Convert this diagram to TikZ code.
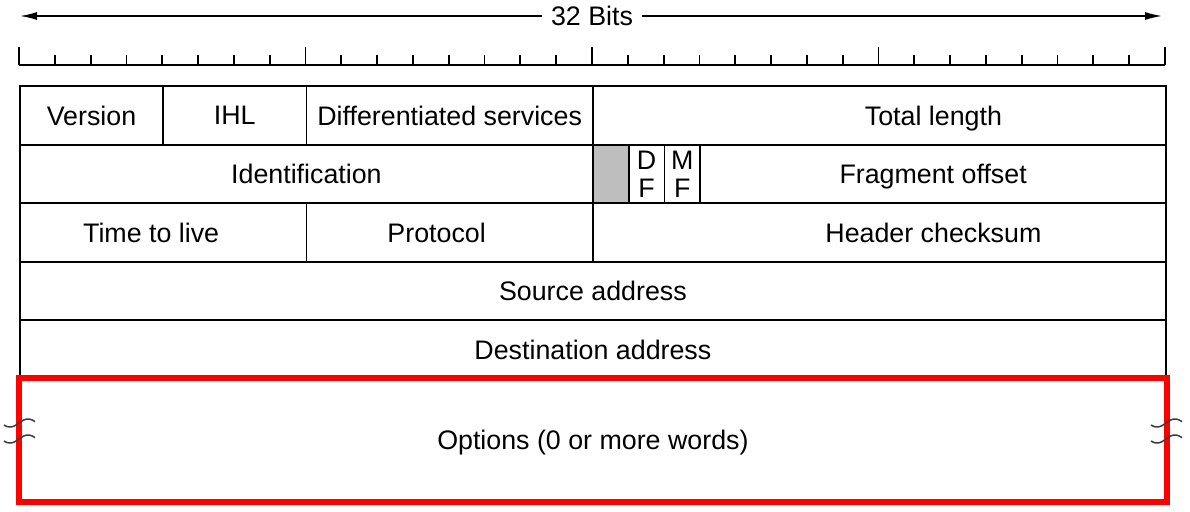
\documentclass[tikz,border=0pt]{standalone}
\usepackage{fontspec}
\setmainfont{Liberation Sans}
\usetikzlibrary{arrows.meta}
\definecolor{cellgray}{RGB}{190,190,190}
\definecolor{wavegray}{RGB}{60,60,60}
\begin{document}
\begin{tikzpicture}[x=1pt,y=-1pt,
  lbl/.style={font=\fontsize{26.8}{28}\selectfont, text depth=0pt},
  cell/.style={lbl, draw=black, line width=1.8pt, anchor=north west, inner sep=0pt},
  ruler/.style={line width=1.8pt},
  arr/.style={line width=1.5pt, -{Latex[length=17pt,width=8pt]}},
  optbox/.style={draw=red, line width=5.5pt, line join=miter},
  wave/.style={draw=wavegray, line width=1.5pt}]
\useasboundingbox (0,0) rectangle (1190,511);
% header arrow
\node[lbl, inner sep=9pt] (bits) at (592,16) {32 Bits};
\coordinate (al) at (20,16);
\coordinate (ar) at (1162,16);
\draw[arr] (bits) -- (al);
\draw[arr] (bits) -- (ar);
% ruler
\draw[ruler] (19,65) -- (1165,65);
\foreach \b in {0,...,32}{
  \pgfmathsetmacro{\xx}{19+35.8125*\b}
  \pgfmathtruncatemacro{\m}{mod(\b,8)}
  \ifnum\m=0
    \draw[ruler] (\xx,65) -- (\xx,47);
  \else
    \draw[ruler] (\xx,65) -- (\xx,55);
  \fi
}
% row 1
\node[cell, minimum width=143.25pt, minimum height=59pt] (ver) at (19,85) {Version};
\node[cell, minimum width=143.25pt, minimum height=59pt] (ihl) at (162.25,85) {IHL};
\node[cell, minimum width=286.5pt, minimum height=59pt] (ds) at (305.5,85) {Differentiated services};
\node[cell, minimum width=573pt, minimum height=59pt,
  label={[lbl, xshift=54pt]center:Total length}] (tl) at (592,85) {};
% row 2
\node[cell, minimum width=573pt, minimum height=58pt] (id) at (19,144) {Identification};
\node[cell, fill=cellgray, minimum width=35.8pt, minimum height=58pt] (rsv) at (592,144) {};
\node[cell, align=center, minimum width=35.8pt, minimum height=58pt] (df) at (627.8,144) {D\\F};
\node[cell, align=center, minimum width=35.8pt, minimum height=58pt] (mf) at (663.6,144) {M\\F};
\node[cell, minimum width=465.6pt, minimum height=58pt] (fo) at (699.4,144) {Fragment offset};
% row 3
\node[cell, minimum width=286.5pt, minimum height=59pt,
  label={[lbl, xshift=-12pt]center:Time to live}] (ttl) at (19,202) {};
\node[cell, minimum width=286.5pt, minimum height=59pt,
  label={[lbl, xshift=-13pt]center:Protocol}] (proto) at (305.5,202) {};
\node[cell, minimum width=573pt, minimum height=59pt,
  label={[lbl, xshift=54pt]center:Header checksum}] (hc) at (592,202) {};
% rows 4,5
\node[cell, minimum width=1146pt, minimum height=58pt] (src) at (19,261) {Source address};
\node[cell, minimum width=1146pt, minimum height=59pt] (dst) at (19,319) {Destination address};
% options
\node[cell, minimum width=1146pt, minimum height=122pt] (opt) at (19,378) {Options (0 or more words)};
\draw[optbox] (opt.north west) rectangle (opt.south east);
% break marks
\foreach \cx/\cy in {19/423, 19/439, 1166/423, 1166/439}{
  \draw[wave, shift={(\cx,\cy)}] plot[domain=-15:16, samples=40, smooth] (\x,{-4*sin(\x*10)});
}
\end{tikzpicture}
\end{document}
